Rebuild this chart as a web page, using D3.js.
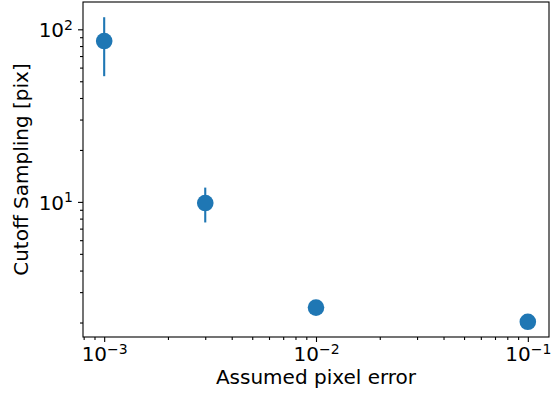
<!DOCTYPE html>
<html>
<head>
<meta charset="utf-8">
<script src="https://cdn.jsdelivr.net/npm/d3@7"></script>
<style>
  body { margin: 0; background: #fff; }
  text { font-family: "DejaVu Sans", sans-serif; fill: #000; }
</style>
</head>
<body>
<svg id="chart" width="551" height="394"></svg>
<script>
// pixel error assumed -> cutoff sampling
const pixelError = [0.001, 0.003, 0.01, 0.1];
const cutoff = [85.5, 9.85, 2.44, 2.02];
const cutoffErr = [32, 2.25, 0, 0];
const xTicks = [1e-3, 1e-2, 1e-1];
const yTicks = [1e1, 1e2];

const svg = d3.select("#chart");
const margin = {top: 2, right: 2, bottom: 57, left: 83},
    width = +svg.attr("width") - margin.left - margin.right,
    height = +svg.attr("height") - margin.top - margin.bottom;
const g = svg.append("g").attr("transform", "translate(" + margin.left + "," + margin.top + ")");

// matplotlib-ish 5% margins in log space
function padLog(lo, hi) {
  let a = Math.log10(lo), b = Math.log10(hi), p = (b - a) * 0.05;
  return [Math.pow(10, a - p), Math.pow(10, b + p)];
}
const x = d3.scaleLog().domain(padLog(d3.min(pixelError), d3.max(pixelError))).range([0, width]);
const y = d3.scaleLog()
    .domain(padLog(d3.min(cutoff, (d, i) => d - cutoffErr[i]), d3.max(cutoff, (d, i) => d + cutoffErr[i])))
    .range([height, 0]);

function minors(scale) {
  const [lo, hi] = scale.domain();
  let out = [];
  for (let e = Math.floor(Math.log10(lo)); e <= Math.ceil(Math.log10(hi)); e++)
    for (let m = 2; m < 10; m++) {
      let v = m * Math.pow(10, e);
      if (v >= lo && v <= hi) out.push(v);
    }
  return out;
}

function supLabel(sel) {
  sel.selectAll(".tick text").each(function(d) {
    const t = d3.select(this).text("10");
    t.append("tspan").attr("dy", "-0.55em").attr("font-size", "14px")
      .text(String(Math.round(Math.log10(d))).replace("-", "\u2212"));
  });
}

// minor ticks
g.append("g").attr("transform", "translate(0," + height + ")")
  .call(d3.axisBottom(x).tickValues(minors(x)).tickFormat("").tickSizeInner(3).tickSizeOuter(0))
  .call(a => a.select(".domain").remove());
g.append("g")
  .call(d3.axisLeft(y).tickValues(minors(y)).tickFormat("").tickSizeInner(3).tickSizeOuter(0))
  .call(a => a.select(".domain").remove());

// major ticks
const xa = g.append("g").attr("transform", "translate(0," + height + ")")
  .call(d3.axisBottom(x).tickValues(xTicks).tickSizeInner(5).tickSizeOuter(0).tickPadding(5));
xa.select(".domain").remove();
xa.selectAll(".tick text").attr("font-size", "20px").attr("dy", "0.72em");
supLabel(xa);

const ya = g.append("g")
  .call(d3.axisLeft(y).tickValues(yTicks).tickSizeInner(5).tickSizeOuter(0).tickPadding(5));
ya.select(".domain").remove();
ya.selectAll(".tick text").attr("font-size", "20px").attr("dy", "0.37em");
supLabel(ya);

g.selectAll(".tick line").attr("stroke", "#000").attr("stroke-width", 1.1);

// frame
g.append("rect").attr("width", width).attr("height", height)
  .attr("fill", "none").attr("stroke", "#000").attr("stroke-width", 1.1);

// error bars
g.selectAll(".err").data(pixelError).enter().filter((d, i) => cutoffErr[i] > 0)
  .append("line")
  .attr("x1", d => x(d)).attr("x2", d => x(d))
  .attr("y1", d => y(cutoff[pixelError.indexOf(d)] + cutoffErr[pixelError.indexOf(d)]))
  .attr("y2", d => y(cutoff[pixelError.indexOf(d)] - cutoffErr[pixelError.indexOf(d)]))
  .attr("stroke", "#1f77b4").attr("stroke-width", 2.1);

g.selectAll(".pt").data(pixelError).enter().append("circle")
  .attr("cx", d => x(d)).attr("cy", (d, i) => y(cutoff[i]))
  .attr("r", 8.3).attr("fill", "#1f77b4");

// axis labels
svg.append("text").attr("x", margin.left + width / 2).attr("y", 384)
  .attr("text-anchor", "middle").attr("font-size", "20px").text("Assumed pixel error");
svg.append("text").attr("transform", "translate(28," + (margin.top + height / 2) + ") rotate(-90)")
  .attr("text-anchor", "middle").attr("font-size", "20px").text("Cutoff Sampling [pix]");
</script>
</body>
</html>
